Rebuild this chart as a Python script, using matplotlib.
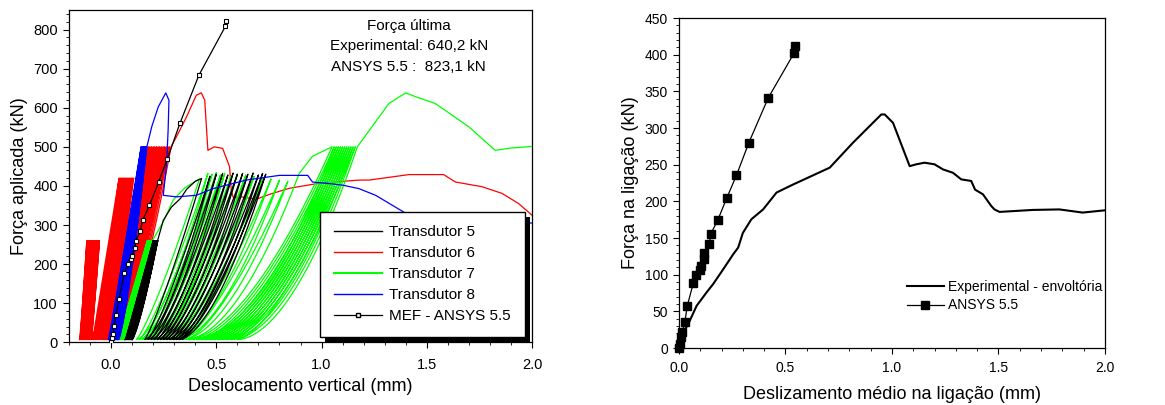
import matplotlib
matplotlib.use("Agg")
import matplotlib.pyplot as plt
import numpy as np
from matplotlib.lines import Line2D
from matplotlib.patches import Rectangle
from matplotlib.ticker import MultipleLocator

plt.rcParams['font.family'] = ['Liberation Sans', 'DejaVu Sans']

# ------------------------------------------------------------------ #
# Left panel: cyclic test, read as valley/peak turning points per
# load level, plus the final (monotonic) part of each record
# ------------------------------------------------------------------ #
# Transdutor 5 (black)
t5_c1_valley = [0.066, 0.068, 0.070, 0.072, 0.074, 0.077, 0.079, 0.081, 0.083, 0.085, 0.088, 0.090,
                0.092, 0.094, 0.096, 0.098]
t5_c1_peak = [0.200, 0.201, 0.203, 0.204, 0.206, 0.207, 0.209, 0.210, 0.212, 0.213, 0.215, 0.216,
              0.218, 0.219, 0.221, 0.222]
t5_c1_fmax = 260
t5_link_x = [0.100, 0.222, 0.248, 0.287, 0.330, 0.360, 0.400, 0.430]
t5_link_f = [6, 262, 312, 346, 368, 392, 412, 419]
t5_c2_valley = [0.160, 0.175, 0.190, 0.205, 0.220, 0.235, 0.250, 0.265, 0.280, 0.295, 0.310, 0.325]
t5_c2_peak = [0.470, 0.500, 0.530, 0.555, 0.580, 0.600, 0.625, 0.650, 0.675, 0.700, 0.720, 0.735]
t5_c2_fmax = [425, 430, 432, 428, 433, 430, 432, 430, 433, 428, 432, 430]
t5_end_x = [0.340]
t5_end_f = [8]

# Transdutor 6 (red)
t6_c1_valley = [-0.150, -0.147, -0.144, -0.141, -0.138, -0.134, -0.131, -0.128, -0.125, -0.121,
                -0.118, -0.115, -0.112, -0.108, -0.105, -0.102, -0.099, -0.096]
t6_c1_peak = [-0.115, -0.111, -0.108, -0.104, -0.101, -0.097, -0.094, -0.090, -0.087, -0.083,
              -0.080, -0.076, -0.073, -0.069, -0.066, -0.062, -0.059, -0.055]
t6_c1_fmax = 260
t6_c2_valley = [-0.092, -0.087, -0.083, -0.078, -0.073, -0.069, -0.064, -0.059, -0.055, -0.050,
                -0.045, -0.041, -0.036, -0.031, -0.027, -0.022]
t6_c2_peak = [0.038, 0.043, 0.047, 0.052, 0.057, 0.061, 0.066, 0.071, 0.075, 0.080, 0.085, 0.089,
              0.094, 0.099, 0.103, 0.108]
t6_c2_fmax = 420
t6_c3_valley = [-0.040, -0.035, -0.029, -0.024, -0.019, -0.013, -0.008, -0.003, 0.003, 0.008,
                0.013, 0.019, 0.024, 0.029, 0.035, 0.040]
t6_c3_peak = [0.170, 0.178, 0.185, 0.193, 0.201, 0.208, 0.216, 0.224, 0.231, 0.239, 0.247, 0.254,
              0.262, 0.270, 0.277, 0.285]
t6_c3_fmax = 500
t6_tail_x = [0.310, 0.358, 0.405, 0.429, 0.445, 0.460, 0.490, 0.530, 0.563, 0.571, 0.580, 0.620,
             0.690, 0.750, 0.847, 0.990, 1.180, 1.226, 1.415, 1.580, 1.636, 1.762, 1.857, 1.936, 2.000]
t6_tail_f = [525, 576, 632, 638, 619, 491, 500, 496, 449, 389, 371, 372,
             366, 378, 394, 407, 415, 415, 429, 429, 410, 398, 381, 355, 325]

# Transdutor 7 (green)
t7_c1_valley = [0.030, 0.032, 0.035, 0.037, 0.040, 0.042, 0.045, 0.047, 0.050, 0.052, 0.055, 0.057,
                0.060, 0.062]
t7_c1_peak = [0.172, 0.174, 0.176, 0.178, 0.180, 0.182, 0.184, 0.186, 0.188, 0.190, 0.192, 0.194,
              0.195, 0.196]
t7_c1_fmax = 260
t7_link1_x = [0.064, 0.198, 0.250, 0.295, 0.350, 0.420]
t7_link1_f = [6, 262, 310, 364, 395, 418]
t7_c2_valley = [0.120, 0.135, 0.150, 0.165, 0.180, 0.200, 0.220, 0.240, 0.260, 0.280, 0.300, 0.320,
                0.340]
t7_c2_peak = [0.460, 0.480, 0.500, 0.520, 0.540, 0.570, 0.600, 0.640, 0.680, 0.720, 0.760, 0.800,
              0.840]
t7_c2_fmax = [432, 430, 434, 428, 432, 425, 430, 428, 425, 420, 418, 415, 412]
t7_link2_x = [0.360, 0.894, 0.957, 1.050]
t7_link2_f = [8, 432, 476, 500]
t7_c3_valley = [0.370, 0.390, 0.410, 0.430, 0.450, 0.470, 0.490, 0.510, 0.530, 0.550, 0.570, 0.600]
t7_c3_peak = [1.060, 1.070, 1.080, 1.090, 1.100, 1.110, 1.120, 1.130, 1.140, 1.150, 1.160, 1.170]
t7_c3_fmax = 500
t7_tail_x = [1.320, 1.400, 1.447, 1.540, 1.700, 1.825, 1.900, 2.000]
t7_tail_f = [611, 638, 628, 611, 551, 491, 497, 501]

# Transdutor 8 (blue)
t8_c1_valley = [-0.014, -0.012, -0.009, -0.007, -0.004, -0.002, 0.000, 0.003, 0.005, 0.008, 0.010,
                0.012, 0.015, 0.017, 0.020, 0.022, 0.024, 0.027, 0.029, 0.031, 0.034, 0.036]
t8_c1_peak = [0.143, 0.144, 0.146, 0.147, 0.148, 0.150, 0.151, 0.152, 0.153, 0.155, 0.156, 0.157,
              0.159, 0.160, 0.161, 0.162, 0.164, 0.165, 0.166, 0.168, 0.169, 0.170]
t8_c1_fmax = 500
t8_tail_x = [0.193, 0.224, 0.260, 0.275, 0.271, 0.264, 0.248, 0.310, 0.405, 0.484, 0.642, 0.800,
             0.934, 0.957, 1.036, 1.100, 1.178, 1.257, 1.400, 1.500, 1.750, 2.000]
t8_tail_f = [551, 602, 638, 619, 542, 457, 376, 372, 376, 393, 415, 427,
             427, 410, 406, 402, 393, 376, 330, 315, 308, 305]

VALLEY_F = 7

# MEF - ANSYS 5.5
mef_x = [0.000, 0.005, 0.011, 0.014, 0.022, 0.038, 0.063, 0.079, 0.096, 0.100, 0.112, 0.117,
         0.139, 0.150, 0.182, 0.226, 0.268, 0.327, 0.417, 0.543, 0.545]
mef_f = [0, 10, 22, 42, 70, 112, 176, 200, 212, 222, 240, 258, 285, 312, 350, 410, 470, 560,
         683, 808, 823]

# ------------------------------------------------------------------ #
# Right panel
# ------------------------------------------------------------------ #
env_x = [0.000, 0.020, 0.044, 0.083, 0.130, 0.160, 0.208, 0.255, 0.278, 0.300, 0.340, 0.395,
         0.458, 0.536, 0.708, 0.817, 0.950, 0.966, 1.005, 1.083, 1.114, 1.153, 1.200, 1.239,
         1.286, 1.325, 1.372, 1.390, 1.427, 1.466, 1.481, 1.505, 1.661, 1.786, 1.895, 2.000]
env_f = [0, 21, 33, 57.6, 76, 87, 107.5, 128, 137, 157, 175.6, 189, 212, 223, 246, 280, 318.5,
         318.5, 307, 248, 250.5, 252.7, 250.5, 243.6, 239, 230, 227.8, 216, 209.6, 193.7, 189,
         185.6, 188.3, 189, 184.7, 187.8]

ansys_x = [0.000, 0.005, 0.009, 0.016, 0.028, 0.039, 0.067, 0.081, 0.097, 0.102, 0.116, 0.119,
           0.142, 0.150, 0.183, 0.225, 0.270, 0.328, 0.419, 0.540, 0.545]
ansys_f = [0, 5.4, 14.5, 22, 36, 57.6, 88, 99, 106.6, 112, 121, 129, 141.6, 156, 175, 205,
           235.5, 280, 341, 402, 411.5]


def cycles(valleys, peaks, fmax):
    fmax = fmax if np.ndim(fmax) else [fmax] * len(peaks)
    x, f = [], []
    for v, p, fm in zip(valleys, peaks, fmax):
        x += [v, p]
        f += [VALLEY_F, fm]
    return x, f


def chain(*parts):
    x, f = [], []
    for px, pf in parts:
        x += list(px)
        f += list(pf)
    return x, f


def cyclic_path(xs, fs, n=30):
    """Join the points; branches that start/end near zero force are drawn curved
    (concave up, wider loops bend more)."""
    px, pf = [xs[0]], [fs[0]]
    for (xa, fa), (xb, fb) in zip(zip(xs[:-1], fs[:-1]), zip(xs[1:], fs[1:])):
        if min(fa, fb) > 40:
            px.append(xb)
            pf.append(fb)
            continue
        s = np.linspace(0, 1, n)
        p_load = min(1.15 + 1.2 * abs(xb - xa), 2.0)
        if fb > fa:
            x = xa + (xb - xa) * s
            f = fa + (fb - fa) * s ** p_load
        else:
            x = (xb + (xa - xb) * s)[::-1]
            f = (fb + (fa - fb) * s ** max(p_load - 0.3, 1.0))[::-1]
        px.extend(x[1:])
        pf.extend(f[1:])
    return px, pf


t5 = chain(cycles(t5_c1_valley, t5_c1_peak, t5_c1_fmax), (t5_link_x, t5_link_f),
           cycles(t5_c2_valley, t5_c2_peak, t5_c2_fmax), (t5_end_x, t5_end_f))
t6 = chain(cycles(t6_c1_valley, t6_c1_peak, t6_c1_fmax), cycles(t6_c2_valley, t6_c2_peak, t6_c2_fmax),
           cycles(t6_c3_valley, t6_c3_peak, t6_c3_fmax), (t6_tail_x, t6_tail_f))
t7 = chain(cycles(t7_c1_valley, t7_c1_peak, t7_c1_fmax), (t7_link1_x, t7_link1_f),
           cycles(t7_c2_valley, t7_c2_peak, t7_c2_fmax), (t7_link2_x, t7_link2_f),
           cycles(t7_c3_valley, t7_c3_peak, t7_c3_fmax), (t7_tail_x, t7_tail_f))
t8 = chain(cycles(t8_c1_valley, t8_c1_peak, t8_c1_fmax), (t8_tail_x, t8_tail_f))

fig = plt.figure(figsize=(11.65, 4.05), dpi=100)
ax1 = fig.add_axes([0.0592, 0.1548, 0.3975, 0.8205])
ax2 = fig.add_axes([0.5828, 0.1407, 0.3657, 0.8148])

for (xs, fs), c, z in [(t6, '#ff0000', 2), (t7, '#00ff00', 3), (t5, 'black', 4), (t8, '#0000ff', 5)]:
    px, pf = cyclic_path(xs, fs)
    ax1.plot(px, pf, color=c, lw=0.9, zorder=z)

ax1.plot(mef_x, mef_f, '-', color='black', lw=0.9, marker='s', markersize=3.5,
         markerfacecolor='white', markeredgecolor='black', markeredgewidth=0.8, zorder=6)

ax1.set_xlim(-0.2, 2.0)
ax1.set_ylim(0, 850)
ax1.xaxis.set_minor_locator(MultipleLocator(0.1))
ax1.yaxis.set_major_locator(MultipleLocator(100))
ax1.yaxis.set_minor_locator(MultipleLocator(20))
ax1.set_xticks([0.0, 0.5, 1.0, 1.5, 2.0])
ax1.set_xticklabels(['0.0', '0.5', '1.0', '1.5', '2.0'])
ax1.set_xlabel('Deslocamento vertical (mm)', fontsize=13)
ax1.set_ylabel('Força aplicada (kN)', fontsize=13)

ann = ['Força última', 'Experimental: 640,2 kN', 'ANSYS 5.5 :  823,1 kN']
for i, t in enumerate(ann):
    ax1.text(0.734, 0.953 - i * 0.062, t, transform=ax1.transAxes, ha='center', va='center',
             fontsize=11, zorder=7)

handles = [Line2D([], [], color='black', lw=1),
           Line2D([], [], color='#ff0000', lw=1),
           Line2D([], [], color='#00ff00', lw=1.5),
           Line2D([], [], color='#0000ff', lw=1),
           Line2D([], [], color='black', lw=0.9, marker='s', markersize=3.5,
                  markerfacecolor='white', markeredgecolor='black')]
labels = ['Transdutor 5', 'Transdutor 6', 'Transdutor 7', 'Transdutor 8', 'MEF - ANSYS 5.5']
leg = ax1.legend(handles, labels, loc='lower left', bbox_to_anchor=(0.543, 0.017),
                 fontsize=11, frameon=True, fancybox=False, edgecolor='black', facecolor='white',
                 framealpha=1, handlelength=3.1, labelspacing=0.45, borderpad=0.9,
                 handletextpad=0.5, borderaxespad=0)
leg.get_frame().set_linewidth(1.0)
leg.set_zorder(10)

# ------------------------------------------------------------------ #
# right panel
# ------------------------------------------------------------------ #
ax2.plot(env_x, env_f, color='black', lw=1.5, label='Experimental - envoltória')
ax2.plot(ansys_x, ansys_f, '-', color='black', lw=0.9, marker='s', markersize=5.5,
         label='ANSYS 5.5', clip_on=False, zorder=5)
ax2.set_xlim(0, 2.0)
ax2.set_ylim(0, 450)
ax2.xaxis.set_minor_locator(MultipleLocator(0.1))
ax2.yaxis.set_major_locator(MultipleLocator(50))
ax2.yaxis.set_minor_locator(MultipleLocator(10))
ax2.set_xticks([0.0, 0.5, 1.0, 1.5, 2.0])
ax2.set_xticklabels(['0.0', '0.5', '1.0', '1.5', '2.0'])
ax2.set_xlabel('Deslizamento médio na ligação (mm)', fontsize=13, labelpad=8)
ax2.set_ylabel('Força na ligação (kN)', fontsize=13)
ax2.legend(loc='lower left', bbox_to_anchor=(0.505, 0.07), frameon=False, fontsize=10,
           handlelength=2.7, handletextpad=0.3, labelspacing=0.3)

for ax in (ax1, ax2):
    ax.tick_params(which='major', direction='out', length=4.5, width=0.8, labelsize=10.5)
    ax.tick_params(which='minor', direction='out', length=2.5, width=0.6)
    for sp in ax.spines.values():
        sp.set_linewidth(0.9)
ax1.tick_params(axis='x', which='major', pad=7)
ax2.tick_params(labelsize=10)
ax2.tick_params(axis='x', which='major', pad=5)

# black offset shadow for the left legend
fig.canvas.draw()
bb = leg.get_window_extent().transformed(ax1.transAxes.inverted())
dx, dy = 5 / (0.3975 * 1165), 5 / (0.8205 * 405)
ax1.add_patch(Rectangle((bb.x0 + dx, bb.y0 - dy), bb.width, bb.height, transform=ax1.transAxes,
                        facecolor='black', edgecolor='none', zorder=9, clip_on=False))

fig.savefig('out.png', dpi=100)
